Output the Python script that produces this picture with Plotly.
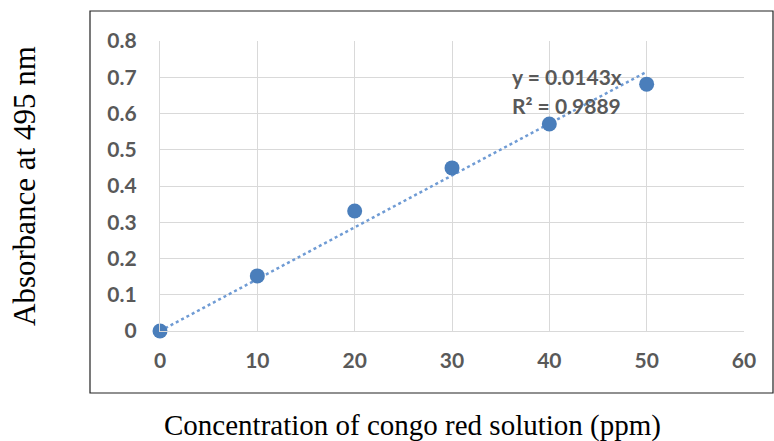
import plotly.graph_objects as go

# Calibration data: congo red concentration vs absorbance
concentration = [0, 10, 20, 30, 40, 50]
absorbance = [0.0, 0.152, 0.331, 0.45, 0.571, 0.681]

# Linear fit through the origin (as reported on the chart)
slope = 0.0143
r_squared = 0.9889
fit_x = [0, 50]
fit_y = [slope * v for v in fit_x]

x_ticks = [0, 10, 20, 30, 40, 50, 60]
y_ticks = [0, 0.1, 0.2, 0.3, 0.4, 0.5, 0.6, 0.7, 0.8]
y_tick_text = ["0", "0.1", "0.2", "0.3", "0.4", "0.5", "0.6", "0.7", "0.8"]

W, H = 774, 441
L, R, T, B = 160, 30, 41, 110
pw, ph = W - L - R, H - T - B

def px_x(p):
    return (p - L) / pw

def px_y(p):
    return (H - B - p) / ph

label_grey = "#595959"
tick_font = dict(family="Lato", size=21, color=label_grey, weight="bold")

fig = go.Figure()
fig.add_trace(go.Scatter(
    x=fit_x, y=fit_y, mode="lines",
    line=dict(color="#6f9bd4", width=2.5, dash="dot"),
    hoverinfo="skip", showlegend=False, cliponaxis=False,
))
fig.add_trace(go.Scatter(
    x=concentration, y=absorbance, mode="markers",
    marker=dict(color="#4a7ebb", size=15),
    showlegend=False, cliponaxis=False,
))

fig.update_layout(
    width=W, height=H,
    margin=dict(l=L, r=R, t=T, b=B),
    paper_bgcolor="white", plot_bgcolor="white",
    xaxis=dict(
        range=[0, 60], tickvals=x_ticks, showgrid=True, gridcolor="#d9d9d9",
        gridwidth=1.4, zeroline=False, showline=True, linecolor="#d9d9d9",
        linewidth=1.4, ticks="", tickfont=tick_font, ticklabelstandoff=11,
    ),
    yaxis=dict(
        range=[0, 0.8], tickvals=y_ticks, ticktext=y_tick_text, showgrid=True,
        gridcolor="#d9d9d9", gridwidth=1.4, zeroline=False, showline=True,
        linecolor="#d9d9d9", linewidth=1.4, ticks="", tickfont=tick_font,
        ticklabelstandoff=18,
    ),
    shapes=[dict(
        type="rect", xref="paper", yref="paper",
        x0=px_x(90), x1=px_x(773), y0=px_y(393), y1=px_y(11),
        line=dict(color="#222222", width=1.2), layer="below",
    )],
    annotations=[
        dict(text=f"y = {slope}x", x=px_x(510), y=px_y(76), xref="paper", yref="paper",
             xanchor="left", yanchor="middle", showarrow=False,
             font=dict(family="Lato", size=21, color=label_grey, weight="bold")),
        dict(text=f"R² = {r_squared}", x=px_x(510), y=px_y(105), xref="paper", yref="paper",
             xanchor="left", yanchor="middle", showarrow=False,
             font=dict(family="Lato", size=21, color=label_grey, weight="bold")),
        dict(text="Concentration of congo red solution (ppm)", x=px_x(412), y=px_y(426),
             xref="paper", yref="paper", xanchor="center", yanchor="middle",
             showarrow=False,
             font=dict(family="Liberation Serif", size=29, color="black")),
        dict(text="Absorbance at 495 nm", x=px_x(24), y=px_y(186),
             xref="paper", yref="paper", xanchor="center", yanchor="middle",
             textangle=-90, showarrow=False,
             font=dict(family="Liberation Serif", size=31, color="black")),
    ],
)

fig.write_html("out.html")
